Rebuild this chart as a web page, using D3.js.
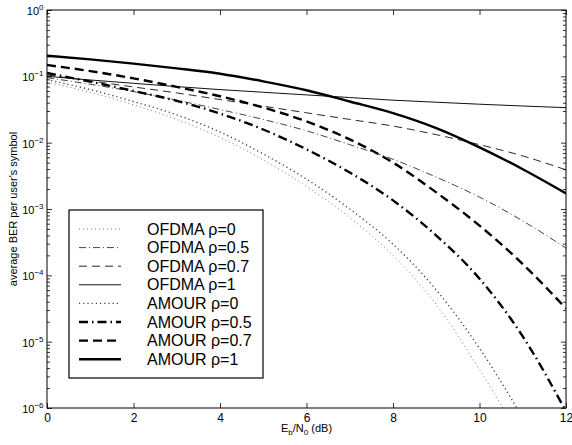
<!DOCTYPE html>
<html><head><meta charset="utf-8">
<script src="https://cdn.jsdelivr.net/npm/d3@7"></script>
<style>body{margin:0;background:#fff}svg{display:block}text{font-family:"Liberation Sans",Arial,Helvetica,sans-serif;fill:#000}</style>
</head><body><svg id="c" width="572" height="445"></svg>
<script>
// ---- data ----
const snr = [0,1,2,3,4,5,6,7,8,9,10,11,12];
const ofdma0  = [0.0813,0.0575,0.0372,0.0224,0.0120,0.0055,0.00219,0.000741,0.000200,0.0000363,0.0000038,3.16e-7,2.5e-8];
const ofdma05 = [0.0955,0.0759,0.0589,0.0437,0.0316,0.0224,0.0151,0.00933,0.00562,0.00302,0.00151,0.000661,0.000257];
const ofdma07 = [0.105,0.0851,0.0692,0.0562,0.0447,0.0355,0.0282,0.0224,0.0178,0.0132,0.00933,0.00631,0.00389];
const ofdma1  = [0.1,0.0881,0.0785,0.070,0.0631,0.0575,0.0525,0.0479,0.0437,0.0407,0.0380,0.0357,0.0337];
const amour0  = [0.0891,0.0631,0.0417,0.0263,0.0145,0.00676,0.00282,0.001,0.000295,0.0000603,0.00000794,7.08e-7,5e-8];
const amour05 = [0.112,0.0832,0.0603,0.0427,0.0275,0.0158,0.00794,0.00355,0.00135,0.000398,0.0000891,0.0000120,8.9e-7];
const amour07 = [0.148,0.120,0.0933,0.0692,0.0501,0.0339,0.0209,0.0112,0.00501,0.00178,0.000562,0.000148,0.0000316];
const amour1  = [0.2046,0.180,0.1556,0.1318,0.1096,0.0841,0.0617,0.0417,0.0279,0.0166,0.00851,0.00398,0.00172];
const seriesNames = ["OFDMA ρ=0","OFDMA ρ=0.5","OFDMA ρ=0.7","OFDMA ρ=1","AMOUR ρ=0","AMOUR ρ=0.5","AMOUR ρ=0.7","AMOUR ρ=1"];
const xTicks = [0,2,4,6,8,10,12];
const yDecades = [1e-6,1e-5,1e-4,1e-3,1e-2,1e-1,1];
const yExp = ["−6","−5","−4","−3","−2","−1","0"];

// ---- styles ----
const styles = [
  {w:0.8, c:"#555", d:"1 3"},
  {w:0.8, c:"#111", d:"7 3 1 3"},
  {w:0.9, c:"#111", d:"8 5"},
  {w:1.0, c:"#111", d:null},
  {w:1.4, c:"#444", d:"1.2 3"},
  {w:2.4, c:"#000", d:"9 4 1.5 4"},
  {w:2.4, c:"#000", d:"9 5"},
  {w:2.4, c:"#000", d:null}
];
const allSeries = [ofdma0,ofdma05,ofdma07,ofdma1,amour0,amour05,amour07,amour1];

const L=47,R=566,T=10,B=408;
const svg = d3.select("#c");
const x = d3.scaleLinear().domain([0,12]).range([L,R]);
const y = d3.scaleLog().domain([1e-6,1]).range([B,T]);

svg.append("defs").append("clipPath").attr("id","clip")
  .append("rect").attr("x",L).attr("y",T).attr("width",R-L).attr("height",B-T);

const line = d3.line().x((d,i)=>x(snr[i])).y(d=>y(d)).curve(d3.curveMonotoneX);
const g = svg.append("g").attr("clip-path","url(#clip)");
allSeries.forEach((s,k)=>{
  g.append("path").attr("d",line(s)).attr("fill","none")
    .attr("stroke",styles[k].c).attr("stroke-width",styles[k].w)
    .attr("stroke-dasharray",styles[k].d);
});

// axes
const ax = svg.append("g").attr("transform",`translate(0,${B})`)
  .call(d3.axisBottom(x).tickValues(xTicks).tickSizeInner(-5).tickSizeOuter(0).tickPadding(5));
const axT = svg.append("g").attr("transform",`translate(0,${T})`)
  .call(d3.axisTop(x).tickValues(xTicks).tickSizeInner(-5).tickSizeOuter(0).tickFormat(""));
const ayL = svg.append("g").attr("transform",`translate(${L},0)`)
  .call(d3.axisLeft(y).tickValues(yDecades).tickSizeInner(-5).tickSizeOuter(0).tickFormat(""));
const ayR = svg.append("g").attr("transform",`translate(${R},0)`)
  .call(d3.axisRight(y).tickValues(yDecades).tickSizeInner(-5).tickSizeOuter(0).tickFormat(""));
const minor = y.ticks().filter(v=>!yDecades.some(d=>Math.abs(d-v)/d<1e-6));
svg.append("g").attr("transform",`translate(${L},0)`)
  .call(d3.axisLeft(y).tickValues(minor).tickSizeInner(-3).tickSizeOuter(0).tickFormat(""));
svg.append("g").attr("transform",`translate(${R},0)`)
  .call(d3.axisRight(y).tickValues(minor).tickSizeInner(-3).tickSizeOuter(0).tickFormat(""));
svg.selectAll(".domain").remove();
svg.selectAll(".tick line").attr("stroke","#000").attr("stroke-width",0.8);
ax.selectAll("text").attr("font-size",12).attr("font-family","Liberation Sans, Arial, sans-serif");

svg.append("rect").attr("x",L).attr("y",T).attr("width",R-L).attr("height",B-T)
  .attr("fill","none").attr("stroke","#000").attr("stroke-width",1);

// y labels
yDecades.forEach((v,i)=>{
  const t = svg.append("text").attr("x",43.5).attr("y",y(v)+5).attr("text-anchor","end").attr("font-size",11);
  t.append("tspan").text("10");
  t.append("tspan").attr("dy",-5).attr("font-size",8).text(yExp[i]);
});

// axis titles
const xl = svg.append("text").attr("x",(L+R)/2).attr("y",432).attr("text-anchor","middle").attr("font-size",11);
xl.append("tspan").text("E");
xl.append("tspan").attr("dy",3).attr("font-size",8).text("b");
xl.append("tspan").attr("dy",-3).text("/N");
xl.append("tspan").attr("dy",3).attr("font-size",8).text("0");
xl.append("tspan").attr("dy",-3).text(" (dB)");

svg.append("text").attr("transform",`translate(17,${(T+B)/2}) rotate(-90)`)
  .attr("text-anchor","middle").attr("font-size",11).text("average BER per user's symbol");

// legend
const lg = svg.append("g");
lg.append("rect").attr("x",69).attr("y",210).attr("width",194).attr("height",168)
  .attr("fill","#fff").attr("stroke","#000").attr("stroke-width",1.2);
const ly = d3.scaleLinear().domain([0,7]).range([229,359.2]);
seriesNames.forEach((n,k)=>{
  lg.append("line").attr("x1",79).attr("x2",121).attr("y1",ly(k)).attr("y2",ly(k))
    .attr("stroke",styles[k].c).attr("stroke-width",styles[k].w).attr("stroke-dasharray",styles[k].d);
  lg.append("text").attr("x",147).attr("y",ly(k)+5.5).attr("font-size",16).text(n);
});
</script></body></html>
